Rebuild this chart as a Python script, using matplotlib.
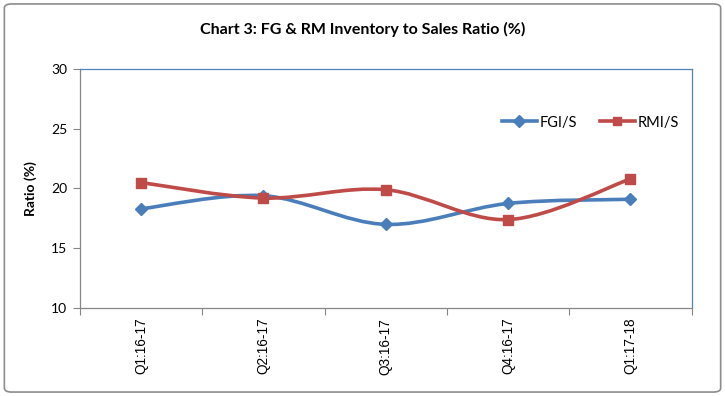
import matplotlib
matplotlib.use("Agg")
import matplotlib.pyplot as plt
from matplotlib.path import Path
from matplotlib.patches import PathPatch, FancyBboxPatch
from matplotlib.lines import Line2D

quarters = ["Q1:16-17", "Q2:16-17", "Q3:16-17", "Q4:16-17", "Q1:17-18"]
fgi_s = [18.3, 19.4, 17.0, 18.75, 19.1]
rmi_s = [20.5, 19.2, 19.9, 17.4, 20.8]
y_ticks = [10, 15, 20, 25, 30]

BLUE = "#4A7EBB"
RED = "#BE4B48"


def smooth_path(xs, ys):
    # Excel-style smoothed line: cubic Bezier segments through each point
    pts = list(zip(xs, ys))
    verts = [pts[0]]
    codes = [Path.MOVETO]
    for i in range(len(pts) - 1):
        p0 = pts[i - 1] if i > 0 else pts[i]
        p1, p2 = pts[i], pts[i + 1]
        p3 = pts[i + 2] if i + 2 < len(pts) else pts[i + 1]
        c1 = (p1[0] + (p2[0] - p0[0]) / 6, p1[1] + (p2[1] - p0[1]) / 6)
        c2 = (p2[0] - (p3[0] - p1[0]) / 6, p2[1] - (p3[1] - p1[1]) / 6)
        verts += [c1, c2, p2]
        codes += [Path.CURVE4] * 3
    return Path(verts, codes)


fig = plt.figure(figsize=(7.25, 3.96), dpi=100)
fig.patches.append(FancyBboxPatch((0.006, 0.01), 0.988, 0.98, boxstyle="round,pad=0,rounding_size=0.01",
                                  transform=fig.transFigure, fill=False, edgecolor="#8C8C8C", linewidth=1.2))
ax = fig.add_axes([0.110, 0.222, 0.844, 0.604])

x = list(range(len(quarters)))
for ys, color, marker in ((fgi_s, BLUE, "D"), (rmi_s, RED, "s")):
    ax.add_patch(PathPatch(smooth_path(x, ys), facecolor="none", edgecolor=color, linewidth=2.6, zorder=3))
    ax.plot(x, ys, linestyle="none", marker=marker, markersize=6.5, color=color, zorder=4)

handles = [Line2D([], [], color=BLUE, linewidth=2.6, marker="D", markersize=6),
           Line2D([], [], color=RED, linewidth=2.6, marker="s", markersize=6)]
ax.legend(handles, ["FGI/S", "RMI/S"], loc="upper right", bbox_to_anchor=(1.0, 0.86), ncol=2, frameon=False,
          handlelength=2.4, handletextpad=0.15, columnspacing=1.6,
          prop={"family": "Lato", "size": 10.5})

ax.set_xlim(-0.5, len(quarters) - 0.5)
ax.set_ylim(10, 30)
ax.set_yticks(y_ticks)
ax.set_yticklabels([str(v) for v in y_ticks], fontsize=10, family="Lato")
ax.set_xticks([i - 0.5 for i in range(len(quarters) + 1)])
ax.set_xticklabels([])
ax.set_xticks(x, minor=True)
ax.set_xticklabels(quarters, minor=True, rotation=90, fontsize=9.8, family="Liberation Sans")
ax.tick_params(axis="x", which="major", length=5, color="#868686", direction="out")
ax.tick_params(axis="x", which="minor", length=0, pad=7)
ax.tick_params(axis="y", length=5, color="#868686", direction="out", pad=4)
ax.set_ylabel("Ratio (%)", fontsize=10, fontweight="bold", family="Lato", labelpad=10)

for side in ("left", "bottom"):
    ax.spines[side].set_color("#868686")
for side in ("top", "right"):
    ax.spines[side].set_color("#4F81BD")
for sp in ax.spines.values():
    sp.set_linewidth(0.9)

fig.text(0.5, 0.925, "Chart 3: FG & RM Inventory to Sales Ratio (%)", ha="center", va="center",
         fontsize=11.5, fontweight="bold", family="Lato")

fig.savefig("out.png", dpi=100)
